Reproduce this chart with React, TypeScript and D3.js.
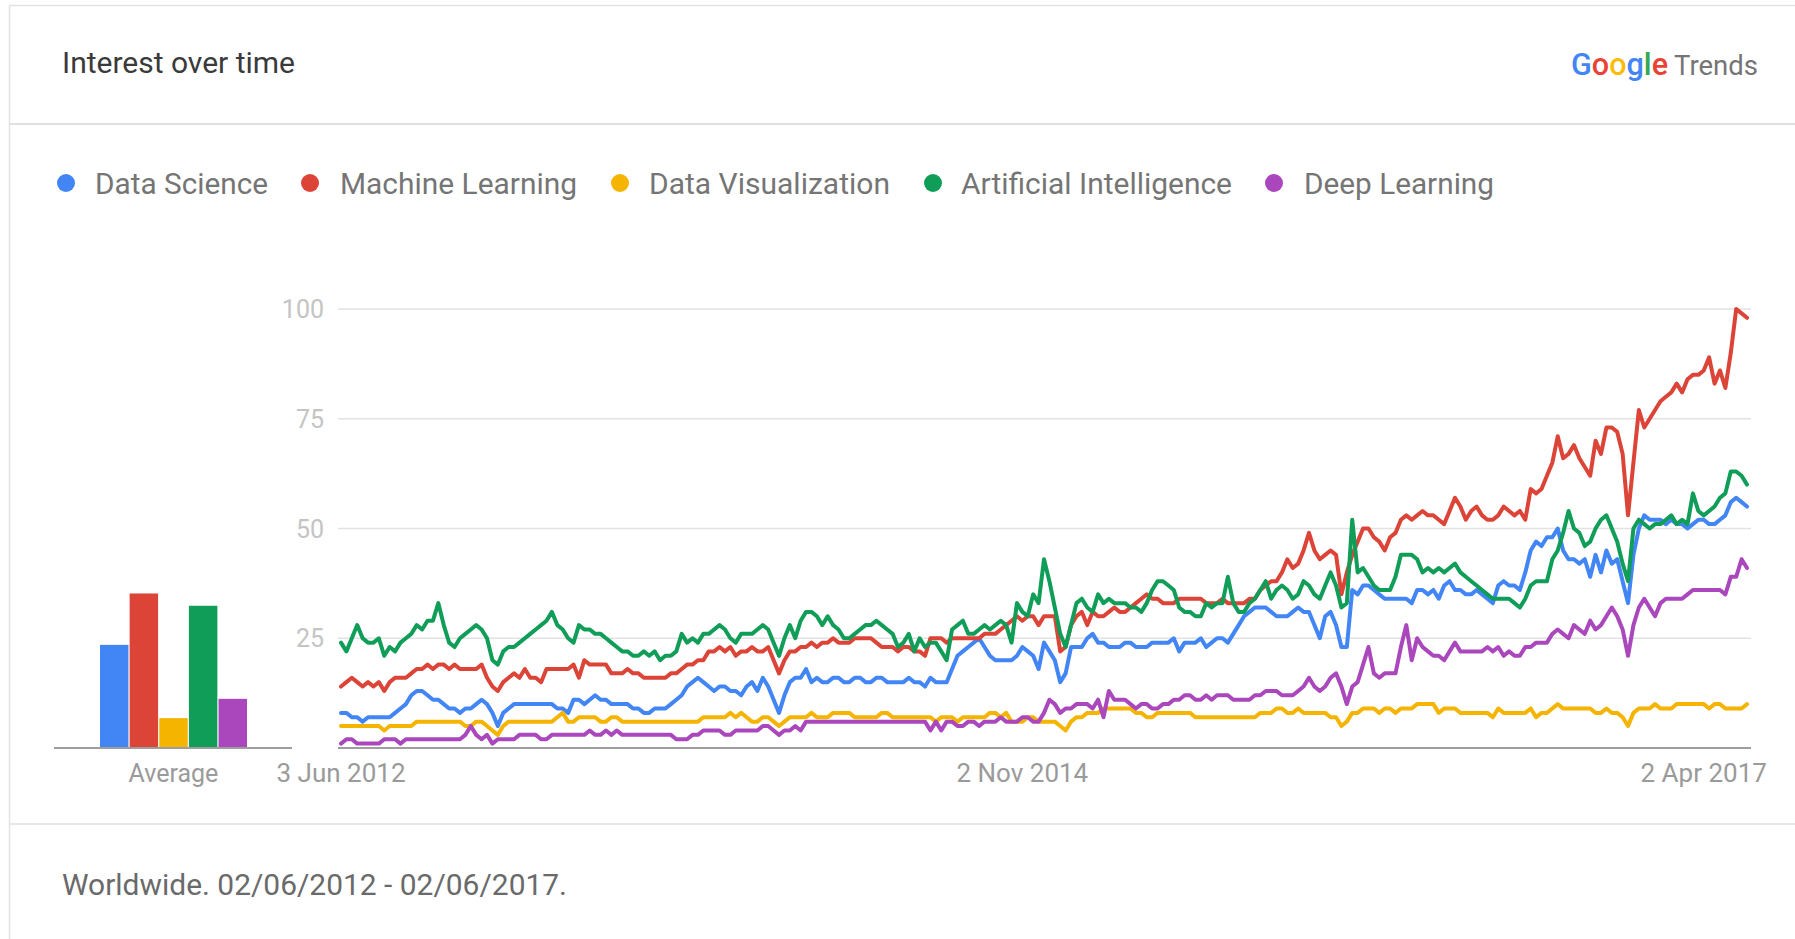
import React from "react";
import * as d3 from "d3";

// ---------- DATA ----------
const SERIES_NAMES = [
  "Data Science",
  "Machine Learning",
  "Data Visualization",
  "Artificial Intelligence",
  "Deep Learning",
];
const SERIES_COLORS = ["#4285f4", "#db4437", "#f4b400", "#0f9d58", "#ab47bc"];

const START_DATE = "2012-06-03"; // first weekly point

const dataScience = [
  8,8,7,7,6,7,7,7,7,7,
  8,9,10,12,13,13,12,11,11,10,
  9,9,8,9,9,10,11,10,8,5,
  8,9,10,10,10,10,10,10,10,10,
  9,9,8,11,11,10,11,12,11,11,
  10,10,10,10,9,9,8,8,9,9,
  9,10,11,12,14,15,16,15,14,13,
  14,14,13,13,12,14,15,13,16,14,
  11,8,12,15,16,16,18,15,16,15,
  15,16,16,15,15,16,16,15,15,16,
  16,15,15,15,15,16,15,15,14,16,
  15,15,15,18,21,22,23,24,25,23,
  21,20,20,20,20,21,23,22,21,18,
  24,22,20,15,17,23,23,23,25,26,
  24,24,23,23,23,24,24,23,23,23,
  24,24,24,24,25,22,24,24,24,25,
  23,24,25,25,24,26,28,30,31,32,
  32,32,31,30,30,30,31,32,31,31,
  28,25,30,31,28,23,23,36,35,37,
  37,36,35,34,34,34,34,34,33,36,
  36,35,36,34,37,38,36,36,35,35,
  36,35,34,33,37,38,37,37,36,40,
  45,47,46,48,48,50,45,43,43,42,
  43,39,44,40,45,42,43,38,33,44,
  50,53,52,52,52,51,52,51,51,50,
  51,52,52,51,51,52,53,56,57,56,55,
];

const machineLearning = [
  14,15,16,15,14,15,14,15,13,15,
  16,16,16,17,18,18,19,18,19,19,
  18,19,18,18,18,18,19,16,14,13,
  15,16,17,16,18,16,16,15,18,18,
  18,18,18,19,16,20,19,19,19,19,
  17,17,17,18,17,17,16,16,16,16,
  16,17,17,18,19,19,20,20,22,22,
  23,22,23,21,22,22,23,22,22,23,
  20,17,20,22,22,23,23,24,23,24,
  24,25,24,24,24,25,25,25,25,24,
  23,23,23,22,23,23,22,22,21,25,
  25,25,24,25,25,25,25,25,25,26,
  26,26,27,28,29,30,29,30,30,28,
  30,30,30,22,23,28,30,31,28,31,
  30,30,31,32,31,31,32,33,34,35,
  34,34,33,33,33,34,34,34,34,34,
  33,33,33,34,33,33,33,33,34,34,
  36,37,38,38,40,43,41,42,45,49,
  45,43,44,45,44,35,40,44,47,50,
  50,48,47,45,48,49,52,53,52,53,
  54,53,53,52,51,54,57,55,52,54,
  55,53,52,52,53,55,54,53,54,52,
  59,58,59,62,65,71,66,67,69,66,
  64,62,70,67,73,73,72,67,53,65,
  77,73,75,77,79,80,81,83,81,84,
  85,85,86,89,83,86,82,90,100,99,98,
];

const dataVisualization = [
  5,5,5,5,5,5,5,5,4,5,
  5,5,5,5,6,6,6,6,6,6,
  6,6,6,5,5,6,6,5,4,3,
  5,6,6,6,6,6,6,6,6,6,
  7,8,6,6,7,7,7,7,6,6,
  7,7,6,6,6,6,6,6,6,6,
  6,6,6,6,6,6,6,7,7,7,
  7,7,8,7,8,7,6,6,7,7,
  6,5,6,7,7,7,7,8,7,7,
  7,8,8,8,8,7,7,7,7,7,
  8,8,7,7,7,7,7,7,7,7,
  6,7,7,7,6,7,7,7,7,7,
  8,8,7,8,6,6,6,7,7,6,
  6,6,6,5,4,6,7,7,8,8,
  8,9,9,9,9,9,9,8,8,7,
  7,8,8,8,8,8,8,8,7,7,
  7,7,7,7,7,7,7,7,7,7,
  8,8,8,9,9,8,8,9,8,8,
  8,8,8,7,7,5,6,8,8,9,
  9,9,8,9,9,8,9,9,9,10,
  10,10,10,8,9,9,9,8,8,8,
  8,8,8,7,9,8,8,8,8,8,
  9,7,8,8,9,10,9,9,9,9,
  9,9,8,8,9,8,8,7,5,8,
  9,9,9,10,9,9,9,10,10,10,
  10,10,10,9,10,10,9,9,9,9,10,
];

const artificialIntelligence = [
  24,22,25,28,25,24,24,25,21,23,
  22,24,25,26,28,27,29,29,33,28,
  24,23,25,26,27,28,27,25,20,19,
  22,23,23,24,25,26,27,28,29,31,
  28,27,25,24,28,27,27,26,26,25,
  24,23,22,22,21,21,22,21,22,20,
  21,21,22,26,24,25,24,26,26,27,
  28,27,25,24,26,26,26,27,28,27,
  24,21,25,28,25,29,31,31,30,28,
  30,28,27,25,25,26,27,28,28,29,
  28,27,26,23,24,26,22,25,23,24,
  24,22,20,27,28,29,26,26,27,28,
  27,28,29,28,24,33,31,30,35,33,
  43,38,32,26,23,28,33,34,32,31,
  35,33,34,33,33,33,32,32,31,33,
  36,38,38,37,36,32,31,31,30,30,
  33,32,33,33,39,33,31,31,33,34,
  36,38,34,36,37,36,34,35,38,37,
  35,34,37,40,37,32,33,52,40,41,
  39,37,36,36,36,39,44,44,44,43,
  40,41,40,41,40,41,42,40,39,38,
  37,36,35,34,34,34,34,33,32,34,
  37,38,38,38,43,45,49,54,50,49,
  46,47,50,52,53,50,47,42,38,50,
  52,51,50,51,51,52,53,51,52,51,
  58,54,53,54,55,57,58,63,63,62,60,
];

const deepLearning = [
  1,2,2,1,1,1,1,1,2,2,
  2,1,2,2,2,2,2,2,2,2,
  2,2,2,3,5,3,2,3,1,2,
  2,2,2,3,3,3,3,2,2,3,
  3,3,3,3,3,3,4,3,3,4,
  3,4,3,3,3,3,3,3,3,3,
  3,3,2,2,2,3,3,4,4,4,
  4,3,3,4,4,4,4,4,5,5,
  4,3,4,4,5,4,6,6,6,6,
  6,6,6,6,6,6,6,6,6,6,
  6,6,6,6,6,6,6,6,6,4,
  6,4,6,6,5,5,6,6,5,6,
  6,6,7,6,6,6,7,7,6,6,
  8,11,10,8,9,9,10,10,10,9,
  11,7,13,11,11,11,10,9,10,10,
  9,9,10,10,11,11,12,12,11,11,
  12,11,12,12,12,11,11,11,11,12,
  12,13,13,13,12,12,12,13,14,16,
  14,13,14,16,17,14,10,14,15,19,
  23,17,16,17,17,17,23,28,20,25,
  23,22,21,21,20,22,24,22,22,22,
  22,22,23,22,23,21,22,21,21,23,
  23,24,24,24,26,27,26,25,28,27,
  26,29,27,28,30,32,30,27,21,28,
  32,34,32,30,33,34,34,34,34,35,
  36,36,36,36,36,36,35,39,39,43,41,
];

const averages = [23.5, 35.2, 6.8, 32.4, 11.2];

const yTicks = [25, 50, 75, 100];
const xTickDates = ["2012-06-03", "2014-11-02", "2017-04-02"];
const xTickLabels = ["3 Jun 2012", "2 Nov 2014", "2 Apr 2017"];

const TITLE = "Interest over time";
const FOOTER = "Worldwide. 02/06/2012 - 02/06/2017.";
const AVERAGE_LABEL = "Average";

// ---------- LAYOUT ----------
const W = 1795;
const H = 939;
const PLOT = { left: 341, right: 1747, top: 309, bottom: 748 };
const GRID = { left: 338, right: 1751 };
const BAR = { left: 100, right: 247, axisLeft: 54, axisRight: 292 };
const LEGEND_DOT_X = [66, 310, 620, 933, 1274];
const LEGEND_TEXT_X = [95, 340, 649, 961, 1304];
const LEGEND_TEXT_W = [173, 237, 241, 271, 190];
const LEGEND_Y = 183;
const FONT = "Roboto, 'Noto Sans', Arial, sans-serif";

const GOOGLE_LETTERS = ["G", "o", "o", "g", "l", "e"];
const GOOGLE_COLORS = ["#4285f4", "#ea4335", "#fbbc05", "#4285f4", "#34a853", "#ea4335"];

export default function App() {
  const series = [
    dataScience,
    machineLearning,
    dataVisualization,
    artificialIntelligence,
    deepLearning,
  ];
  const start = d3.utcParse("%Y-%m-%d")(START_DATE) as Date;
  const n = dataScience.length;
  const dates = d3.range(n).map((i) => d3.utcWeek.offset(start, i));

  const x = d3
    .scaleUtc()
    .domain([dates[0], dates[n - 1]])
    .range([PLOT.left, PLOT.right]);
  const y = d3.scaleLinear().domain([0, 100]).range([PLOT.bottom, PLOT.top]);

  const line = d3
    .line<number>()
    .x((_, i) => x(dates[i]))
    .y((v) => y(v));

  const barX = d3
    .scaleBand<string>()
    .domain(SERIES_NAMES)
    .range([BAR.left, BAR.right])
    .paddingInner(0.04);

  const parse = d3.utcParse("%Y-%m-%d");

  return (
    <svg
      width={W}
      height={H}
      viewBox={`0 0 ${W} ${H}`}
      style={{ position: "fixed", left: 0, top: 0, background: "#fff" }}
      fontFamily={FONT}
    >
      <rect x={0} y={0} width={W} height={H} fill="#ffffff" />
      {/* card */}
      <rect x={9.5} y={5.5} width={W} height={H} fill="#fff" stroke="#e3e3e3" strokeWidth={1.5} />
      <line x1={9} x2={W} y1={124} y2={124} stroke="#e0e0e0" strokeWidth={2} />
      <line x1={9} x2={W} y1={824} y2={824} stroke="#e6e6e6" strokeWidth={2} />

      {/* title */}
      <text x={62} y={73} fontSize={30} fill="#3a3a3a" textLength={233} lengthAdjust="spacingAndGlyphs">
        {TITLE}
      </text>

      {/* Google Trends logo */}
      <text x={1571} y={75} fontSize={31} fontWeight={500} textLength={97} lengthAdjust="spacingAndGlyphs">
        {GOOGLE_LETTERS.map((c, i) => (
          <tspan key={i} fill={GOOGLE_COLORS[i]}>
            {c}
          </tspan>
        ))}
      </text>
      <text x={1674} y={75} fontSize={28} fill="#757575" textLength={84} lengthAdjust="spacingAndGlyphs">
        Trends
      </text>

      {/* legend */}
      {SERIES_NAMES.map((name, i) => (
        <g key={name}>
          <circle cx={LEGEND_DOT_X[i]} cy={LEGEND_Y} r={9} fill={SERIES_COLORS[i]} />
          <text
            x={LEGEND_TEXT_X[i]}
            y={LEGEND_Y + 10.5}
            fontSize={30}
            fill="#757575"
            textLength={LEGEND_TEXT_W[i]}
            lengthAdjust="spacingAndGlyphs"
          >
            {name}
          </text>
        </g>
      ))}

      {/* gridlines + y labels */}
      {yTicks.map((t) => (
        <g key={t}>
          <line x1={GRID.left} x2={GRID.right} y1={y(t)} y2={y(t)} stroke="#e2e2e2" strokeWidth={1.5} />
          <text x={324} y={y(t) + 9} fontSize={25} fill="#c4c4c4" textAnchor="end">
            {t}
          </text>
        </g>
      ))}

      {/* average bars */}
      {SERIES_NAMES.map((name, i) => (
        <rect
          key={name}
          x={barX(name)}
          y={y(averages[i])}
          width={barX.bandwidth()}
          height={y(0) - y(averages[i])}
          fill={SERIES_COLORS[i]}
        />
      ))}
      <line x1={BAR.axisLeft} x2={BAR.axisRight} y1={y(0)} y2={y(0)} stroke="#9e9e9e" strokeWidth={2} />
      <text x={(BAR.left + BAR.right) / 2} y={782} fontSize={25} fill="#9a9a9a" textAnchor="middle">
        {AVERAGE_LABEL}
      </text>

      {/* lines */}
      {series.map((s, i) => (
        <path
          key={SERIES_NAMES[i]}
          d={line(s) || ""}
          fill="none"
          stroke={SERIES_COLORS[i]}
          strokeWidth={4}
          strokeLinejoin="round"
          strokeLinecap="round"
        />
      ))}

      {/* baseline */}
      <line x1={GRID.left} x2={GRID.right} y1={y(0)} y2={y(0)} stroke="#9e9e9e" strokeWidth={2} />

      {/* x labels */}
      {xTickDates.map((d, i) => (
        <text
          key={d}
          x={x(parse(d) as Date)}
          y={782}
          fontSize={26}
          fill="#9a9a9a"
          textAnchor="middle"
        >
          {xTickLabels[i]}
        </text>
      ))}

      {/* footer */}
      <text x={62} y={895} fontSize={30} fill="#6a6a6a" textLength={505} lengthAdjust="spacingAndGlyphs">
        {FOOTER}
      </text>
    </svg>
  );
}
